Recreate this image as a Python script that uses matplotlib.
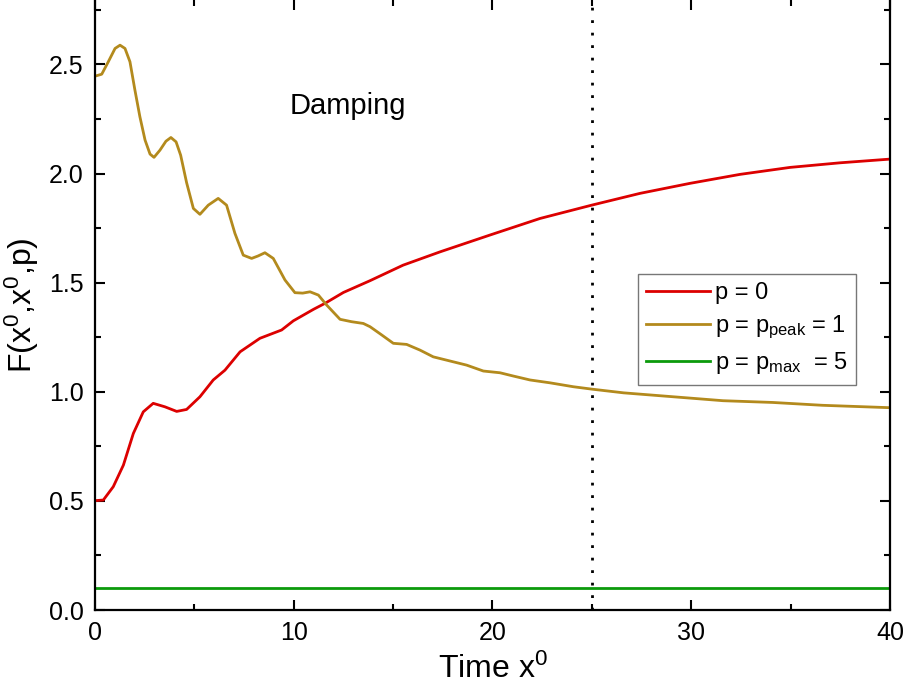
import matplotlib
matplotlib.use('Agg')
from matplotlib import pyplot as plt
from matplotlib.ticker import MultipleLocator

plt.rcParams['font.family'] = ['Liberation Sans', 'DejaVu Sans']
plt.rcParams['mathtext.fontset'] = 'custom'
plt.rcParams['mathtext.rm'] = 'Liberation Sans'
plt.rcParams['mathtext.it'] = 'Liberation Sans:italic'

# p = 0
x_p0 = [0, 0.42, 0.92, 1.43, 1.93, 2.43, 2.93, 3.52, 4.11, 4.61, 5.28, 5.95, 6.54,
        7.3, 8.3, 9.39, 9.98, 11.0, 11.57, 12.5, 13.84, 15.5, 17.36, 19.87, 22.39,
        24.99, 27.42, 29.94, 32.45, 34.97, 37.48, 40]
y_p0 = [0.501, 0.504, 0.565, 0.664, 0.809, 0.908, 0.947, 0.931, 0.91, 0.919, 0.977,
        1.054, 1.099, 1.183, 1.245, 1.283, 1.325, 1.378, 1.405, 1.455, 1.509, 1.58,
        1.641, 1.718, 1.794, 1.855, 1.909, 1.955, 1.996, 2.028, 2.049, 2.066]

# p = p_peak = 1
x_peak = [0, 0.34, 0.67, 1.01, 1.26, 1.51, 1.76, 2.01, 2.26, 2.52, 2.77, 2.97, 3.27,
          3.57, 3.82, 4.08, 4.31, 4.61, 4.95, 5.28, 5.7, 6.2, 6.62, 7.04, 7.46, 7.88,
          8.2, 8.55, 8.97, 9.56, 10.06, 10.45, 10.82, 11.24, 11.66, 12.33, 12.91,
          13.5, 13.84, 14.4, 15.01, 15.68, 16.35, 17.02, 17.86, 18.7, 19.54, 20.38,
          21.05, 21.89, 22.89, 24.07, 25.0, 26.6, 29.1, 31.6, 34.1, 36.6, 40]
y_peak = [2.446, 2.455, 2.512, 2.573, 2.588, 2.573, 2.512, 2.382, 2.26, 2.153, 2.089,
          2.074, 2.107, 2.148, 2.165, 2.145, 2.084, 1.958, 1.84, 1.813, 1.855, 1.886,
          1.855, 1.726, 1.626, 1.611, 1.622, 1.637, 1.611, 1.512, 1.454, 1.452, 1.458,
          1.443, 1.397, 1.332, 1.321, 1.313, 1.298, 1.262, 1.222, 1.217, 1.191, 1.16,
          1.141, 1.122, 1.095, 1.087, 1.072, 1.054, 1.041, 1.023, 1.012, 0.995, 0.977,
          0.959, 0.951, 0.938, 0.927]

# p = p_max = 5
x_max = [0, 10, 20, 30, 40]
y_max = [0.1, 0.1, 0.1, 0.1, 0.1]

x_mark = 25

fig = plt.figure(figsize=(9.08, 6.99), dpi=100)
ax = fig.add_axes([0.1046, 0.1273, 0.8756, 0.8727])

ax.plot(x_p0, y_p0, color='#dc0000', lw=2, label='p = 0')
ax.plot(x_peak, y_peak, color='#b38a1d', lw=2, label=r'p = p$_{\rm peak}$ = 1')
ax.plot(x_max, y_max, color='#0c9a0c', lw=2, label=r'p = p$_{\rm max}$  = 5')
ax.axvline(x_mark, color='black', ls=(0, (1, 3.5)), lw=2)

ax.text(12.7, 2.31, 'Damping', fontsize=21, ha='center', va='center')

ax.set_xlim(0, 40)
ax.set_ylim(0, 2.795)
ax.xaxis.set_major_locator(MultipleLocator(10))
ax.xaxis.set_minor_locator(MultipleLocator(5))
ax.yaxis.set_major_locator(MultipleLocator(0.5))
ax.yaxis.set_minor_locator(MultipleLocator(0.25))
ax.yaxis.set_major_formatter(plt.FuncFormatter(lambda v, _: f'{v:.1f}'))

ax.tick_params(which='both', direction='in', top=True, right=True, labelsize=18, pad=8)
ax.tick_params(which='major', length=7, width=1.5)
ax.tick_params(which='minor', length=4, width=1.5)
for s in ax.spines.values():
    s.set_linewidth(1.6)
ax.spines['top'].set_visible(False)

ax.set_xlabel(r'Time x$^0$', fontsize=23, labelpad=6)
ax.set_ylabel(r'F(x$^0$,x$^0$,p)', fontsize=23, labelpad=6)

leg = ax.legend(loc='upper left', bbox_to_anchor=(0.683, 0.551), borderaxespad=0,
                fontsize=17, frameon=True, fancybox=False, handlelength=2.7,
                handletextpad=0.2, labelspacing=0.4, borderpad=0.35)
leg.get_frame().set_edgecolor('#555555')
leg.get_frame().set_linewidth(1.0)

plt.savefig('out.png', dpi=100)
